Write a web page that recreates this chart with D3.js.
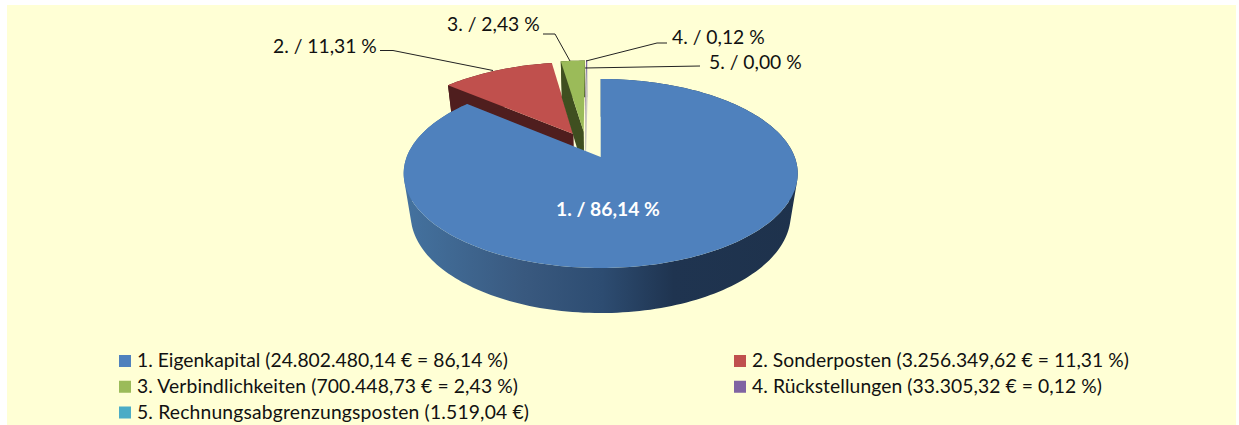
<!DOCTYPE html>
<html>
<head>
<meta charset="utf-8">
<script src="https://cdn.jsdelivr.net/npm/d3@7"></script>
<style>
    html, body { margin: 0; padding: 0; background: white; }
    svg { display: block; }
    text { font-family: Lato, "Open Sans", sans-serif; fill: #111; }
</style>
</head>
<body>
<script>
var names = ["Eigenkapital", "Sonderposten", "Verbindlichkeiten", "Rückstellungen", "Rechnungsabgrenzungsposten"];
var euros = [24802480.14, 3256349.62, 700448.73, 33305.32, 1519.04];
var euroLabels = ["24.802.480,14", "3.256.349,62", "700.448,73", "33.305,32", "1.519,04"];
var percentLabels = ["86,14", "11,31", "2,43", "0,12", "0,00"];

var topColors = ["#4f81bd", "#c0504d", "#9bbb59", "#8064a2", "#4bacc6"];
var sideColors = ["#2c4a6e", "#4f1e1e", "#3f4f20", "#c9c6c0", "#c9c6c0"];

// how far each slice is pulled out of the pie, in pie radii (x, depth)
var explodeX = [0, -0.147, -0.092, -0.085, -0.085];
var explodeY = [0, -0.263, -0.29, -0.29, -0.29];

var w = 1239, h = 425;

var svg = d3.select("body").append("svg").attr("width", w).attr("height", h);

svg.append("rect").attr("x", 7).attr("y", 5).attr("width", 1229).attr("height", 420).attr("fill", "#ffffd5");

var defs = svg.append("defs");
var sideGrad = defs.append("linearGradient").attr("id", "blueSide")
    .attr("gradientUnits", "userSpaceOnUse")
    .attr("x1", 405).attr("x2", 800).attr("y1", 0).attr("y2", 0);
[[0, "#44729f"], [0.3, "#39597f"], [0.5, "#2d4c71"], [0.68, "#1f3450"], [1, "#1e324c"]].forEach(function(s) {
    sideGrad.append("stop").attr("offset", s[0]).attr("stop-color", s[1]);
});

// perspective view of the pie, origin is the tip of the blue slice
var tipX = 600.7, tipY = 157;
var pers = 0.1747, persDown = 0.036;
var rx = d3.scaleLinear().domain([0, 1]).range([0, 194]);
var ry = d3.scaleLinear().domain([0, 1]).range([0, 91.6]);
var rz = d3.scaleLinear().domain([0, 1]).range([0, 42.8]);

function project(x, y, z) {
    var den = 1 - pers * y + persDown * z;
    return [tipX + rx(x) / den, tipY + (ry(y) + rz(z)) / den];
}

// point on a slice rim, angle as d3.pie gives it (0 = back, clockwise)
function rim(i, a, z) {
    return project(explodeX[i] + Math.sin(a), explodeY[i] - Math.cos(a), z);
}

function arcPoints(i, d, z) {
    var n = Math.max(2, Math.ceil((d.endAngle - d.startAngle) * 40));
    return d3.range(n + 1).map(function(k) {
        return rim(i, d.startAngle + (d.endAngle - d.startAngle) * k / n, z);
    });
}

var line = d3.line();
var pie = d3.pie().sort(null);
var slices = pie(euros);

// outer wall as one path of small quads, all wound the same way so the
// part outside both rims at the left and right edge is filled too
function wallPath(i, d) {
    var up = arcPoints(i, d, 0), down = arcPoints(i, d, 1);
    return d3.range(up.length - 1).map(function(k) {
        var quad = [up[k], up[k + 1], down[k + 1], down[k]];
        if (d3.polygonArea(quad) < 0) quad.reverse();
        return line(quad) + "Z";
    }).join("");
}

// back slices first, blue last because it lies in front of them
[1, 2, 3, 4, 0].forEach(function(i) {
    var d = slices[i];
    var g = svg.append("g").attr("class", "slice");
    var tipTop = project(explodeX[i], explodeY[i], 0);
    var tipBottom = project(explodeX[i], explodeY[i], 1);

    // cut face on the start side
    if (i > 0) {
        g.append("path")
            .attr("d", line([tipTop, rim(i, d.startAngle, 0), rim(i, d.startAngle, 1), tipBottom]) + "Z")
            .attr("fill", sideColors[i]);
    }

    // outer wall
    g.append("path")
        .attr("d", wallPath(i, d))
        .attr("fill", i == 0 ? "url(#blueSide)" : sideColors[i]);

    // top face
    g.append("path")
        .attr("d", line([tipTop].concat(arcPoints(i, d, 0))) + "Z")
        .attr("fill", topColors[i]);
});

// data labels and leader lines
var leaders = [
    null,
    [[380, 50.5], [393, 50.5], [493, 70.5]],
    [[543, 34], [555, 34], [570, 61]],
    [[667, 43], [657, 43], [586, 61]],
    [[700, 66], [585, 68]]
];
var labelX = [556, 273, 447, 672, 709];
var labelY = [216, 53, 31, 44, 69];

var labelSize = 19.3;

svg.selectAll("path.leader")
    .data(leaders.filter(function(l) { return l; }))
    .enter().append("path")
    .attr("class", "leader")
    .attr("d", line)
    .attr("fill", "none")
    .attr("stroke", "#222")
    .attr("stroke-width", 1);

svg.selectAll("text.label")
    .data(percentLabels)
    .enter().append("text")
    .attr("class", "label")
    .attr("x", function(d, i) { return labelX[i]; })
    .attr("y", function(d, i) { return labelY[i]; })
    .attr("font-size", labelSize)
    .attr("font-weight", function(d, i) { return i == 0 ? "bold" : "normal"; })
    .style("fill", function(d, i) { return i == 0 ? "#fff" : "#111"; })
    .text(function(d, i) { return (i + 1) + ". / " + d + " %"; });

// legend
var legendX = d3.scalePoint().domain([0, 1]).range([119, 734]);
var legendY = d3.scalePoint().domain([0, 1, 2]).range([355, 406.5]);
var legendTextWidth = [371, 377, 381, 350, 392]; // Lato runs a bit different from the original font

var legend = svg.selectAll("g.legend")
    .data(names)
    .enter().append("g")
    .attr("class", "legend")
    .attr("transform", function(d, i) {
        return "translate(" + legendX(i % 2) + "," + legendY(Math.floor(i / 2)) + ")";
    });

legend.append("rect")
    .attr("width", 12).attr("height", 12)
    .attr("fill", function(d, i) { return topColors[i]; });

legend.append("text")
    .attr("x", 18).attr("y", 12)
    .attr("font-size", labelSize)
    .attr("textLength", function(d, i) { return legendTextWidth[i]; })
    .attr("lengthAdjust", "spacing")
    .text(function(d, i) {
        if (i == 4) return "5. " + d + " (" + euroLabels[i] + " €)";
        return (i + 1) + ". " + d + " (" + euroLabels[i] + " € = " + percentLabels[i] + " %)";
    });
</script>
</body>
</html>
